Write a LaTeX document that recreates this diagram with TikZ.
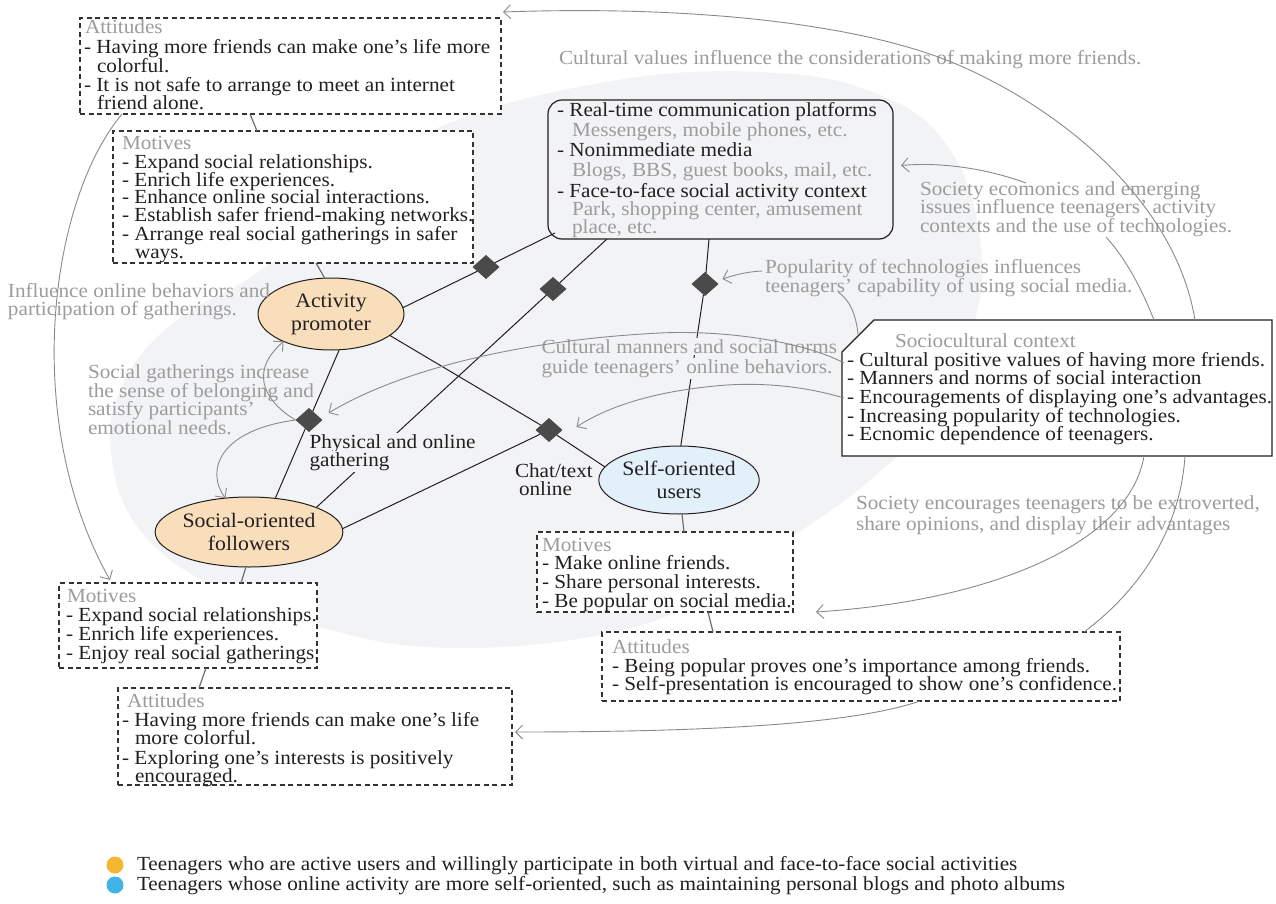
\documentclass[tikz,border=0pt]{standalone}
\usepackage{fontspec}
\setmainfont{Liberation Serif}[FakeStretch=1.06]
\usetikzlibrary{shapes.geometric,arrows.meta,calc}

\definecolor{cBlob}{HTML}{F2F3F5}
\definecolor{cAnnoText}{HTML}{9C9C9C}
\definecolor{cAnnoLine}{HTML}{8A8A8A}
\definecolor{cInk}{HTML}{231F20}
\definecolor{cDia}{HTML}{4A4A4A}
\definecolor{cOrange}{HTML}{F8DEBB}
\definecolor{cBlue}{HTML}{E2F0FA}
\definecolor{cKeyOrange}{HTML}{F4B731}
\definecolor{cKeyBlue}{HTML}{43B3E5}
\definecolor{cBoxLine}{HTML}{333333}
\definecolor{cTie}{HTML}{6E6E6E}

\newcommand\txtsize{\fontsize{20}{19}\selectfont}
\newcommand\putline[4][]{\node[blackline,#1] (#2) at (#3) {#4};}

\tikzset{
  every node/.style={inner sep=0pt, outer sep=0pt},
  blackline/.style={anchor=base west, font=\txtsize, text=cInk},
  grayline/.style={anchor=base west, font=\txtsize, text=cAnnoText},
  dbox/.style={draw=cBoxLine, line width=1.1pt, dash pattern=on 5pt off 3.5pt, fill=white, anchor=north west},
  actor/.style={ellipse, draw=cInk, line width=1pt, align=center, font=\fontsize{20.5}{23}\selectfont, text=cInk},
  relation/.style={draw=cInk, line width=1pt},
  junction/.style={diamond, fill=cDia, aspect=1.1, minimum width=27pt, minimum height=24pt},
  influence/.style={draw=cAnnoLine, line width=0.9pt},
  influencearrow/.style={influence, -{Straight Barb[length=7pt,width=14pt,line width=0.9pt]}},
  boxtie/.style={draw=cTie, line width=1.2pt},
}

\begin{document}
\begin{tikzpicture}[x=1pt,y=-1pt]
\fill[white] (0,0) rectangle (1276,904);
\useasboundingbox (0,0) rectangle (1276,904);

% light background region holding the actors
\fill[cBlob] plot[smooth cycle, tension=0.7] coordinates {(760,72) (880,95) (950,150) (980,240) (975,320) (940,410) (870,480) (795,535) (700,600) (600,635) (450,648) (330,630) (220,590) (140,530) (111,450) (125,380) (177,320) (257,273) (340,200) (433,130) (600,83)};

% actors, media box and junctions
\node[actor, fill=cOrange, minimum width=146pt, minimum height=72pt] (ap) at (331,314) {Activity\\promoter};
\node[actor, fill=cOrange, minimum width=164pt, minimum height=70pt] (sf) at (249,532) {Social-oriented\\followers};
\node[actor, fill=cBlue, minimum width=140pt, minimum height=68pt] (su) at (679,480) {Self-oriented\\users};
\node[draw=cInk, line width=1.2pt, rounded corners=14pt, fill=cBlob, minimum width=345pt, minimum height=139pt, anchor=north west] (media) at (548,100) {};

\node[junction] (d1) at (486,267) {};
\node[junction] (d2) at (553,289) {};
\node[junction] (d3) at (705,284) {};
\node[junction] (d4) at (309,420) {};
\node[junction] (d5) at (549,430) {};

\path[relation] (ap.5) -- (d1) -- ($(media.south west)+(7,-6)$);
\path[relation] (sf.20) -- (d2) -- ($(media.south west)+(59,0)$);
\path[relation] (su.87) -- (d3) -- ($(media.south west)+(161,0)$);
\path[relation] (ap.-77) -- (d4) -- (sf.52);
\path[relation] (ap.-20) -- (d5) -- (su.170);
\path[relation] (sf.2) -- (d5);

% media box contents
\putline{m1}{557,117}{- Real-time communication platforms}
\putline[grayline]{m2}{572,137}{Messengers, mobile phones, etc.}
\putline{m3}{557,157}{- Nonimmediate media}
\putline[grayline]{m4}{572,177}{Blogs, BBS, guest books, mail, etc.}
\putline{m5}{557,197}{- Face-to-face social activity context}
\putline[grayline]{m6}{572,215}{Park, shopping center, amusement}
\putline[grayline]{m7}{572,233}{place, etc.}

% relation labels
\putline[fill=cBlob, inner sep=1.5pt]{g1}{308,448}{Physical and online}
\putline[fill=cBlob, inner sep=1.5pt]{g2}{308,466}{gathering}
\putline{c1}{515,477}{Chat/text}
\putline{c2}{519,495}{online}
\putline[grayline, fill=cBlob, inner sep=1.5pt]{cm1}{540,353}{Cultural manners and social norms}
\putline[grayline, fill=cBlob, inner sep=1.5pt]{cm2}{540,373}{guide teenagers’ online behaviors.}

% sociocultural context box
\node[minimum width=430pt, minimum height=136pt, anchor=north west] (socio) at (842,320) {};
\draw[cInk, line width=1.2pt, fill=white] ($(socio.north west)+(32,0)$) -- (socio.north east) -- (socio.south east) -- (socio.south west) -- ($(socio.north west)+(0,32)$) -- cycle;
\putline[grayline]{s0}{895,347}{Sociocultural context}
\putline{s1}{847,366}{- Cultural positive values of having more friends.}
\putline{s2}{847,384}{- Manners and norms of social interaction}
\putline{s3}{847,403}{- Encouragements of displaying one’s advantages.}
\putline{s4}{847,422}{- Increasing popularity of technologies.}
\putline{s5}{847,440}{- Ecnomic dependence of teenagers.}

% dashed motive and attitude boxes
\node[dbox, minimum width=421pt, minimum height=96pt] (attTop) at (80,18) {};
\putline[grayline]{at0}{85,34}{Attitudes}
\putline{at1}{84,54}{- Having more friends can make one’s life more}
\putline{at2}{97,73}{colorful.}
\putline{at3}{84,92}{- It is not safe to arrange to meet an internet}
\putline{at4}{97,110}{friend alone.}

\node[dbox, minimum width=360pt, minimum height=132pt] (motTop) at (113,131) {};
\putline[grayline]{mt0}{122,150}{Motives}
\putline{mt1}{122,168}{- Expand social relationships.}
\putline{mt2}{122,186}{- Enrich life experiences.}
\putline{mt3}{122,204}{- Enhance online social interactions.}
\putline{mt4}{122,222}{- Establish safer friend-making networks.}
\putline{mt5}{122,240}{- Arrange real social gatherings in safer}
\putline{mt6}{135,258}{ways.}

\node[dbox, minimum width=258pt, minimum height=85pt] (motLeft) at (59,583) {};
\putline[grayline]{ml0}{67,602}{Motives}
\putline{ml1}{66,621}{- Expand social relationships.}
\putline{ml2}{66,640}{- Enrich life experiences.}
\putline{ml3}{66,659}{- Enjoy real social gatherings.}

\node[dbox, minimum width=394pt, minimum height=97pt] (attLeft) at (118,688) {};
\putline[grayline]{al0}{127,707}{Attitudes}
\putline{al1}{122,726}{- Having more friends can make one’s life}
\putline{al2}{135,744}{more colorful.}
\putline{al3}{122,764}{- Exploring one’s interests is positively}
\putline{al4}{135,782}{encouraged.}

\node[dbox, minimum width=256pt, minimum height=80pt] (motSelf) at (537,532) {};
\putline[grayline]{ms0}{542,551}{Motives}
\putline{ms1}{542,569}{- Make online friends.}
\putline{ms2}{542,588}{- Share personal interests.}
\putline{ms3}{542,607}{- Be popular on social media.}

\node[dbox, minimum width=518pt, minimum height=69pt] (attSelf) at (602,632) {};
\putline[grayline]{as0}{612,653}{Attitudes}
\putline{as1}{612,672}{- Being popular proves one’s importance among friends.}
\putline{as2}{612,690}{- Self-presentation is encouraged to show one’s confidence.}

% short ties between actors and their boxes
\draw[boxtie] ($(attTop.south west)+(170,0)$) -- ($(motTop.north west)+(144,0)$);
\draw[boxtie] ($(motTop.south west)+(203,0)$) -- (ap.100);
\draw[boxtie] (sf.265) -- ($(motLeft.north west)+(182,0)$);
\draw[boxtie] ($(motLeft.south west)+(147,0)$) -- ($(attLeft.north west)+(81,0)$);
\draw[boxtie] (su.275) -- ($(motSelf.north west)+(147,0)$);
\draw[boxtie] ($(motSelf.south west)+(171,0)$) -- ($(attSelf.north west)+(111,0)$);

% influence annotations
\putline[grayline]{cv}{559,65}{Cultural values influence the considerations of making more friends.}
\putline[grayline]{se1}{920,196}{Society ecomonics and emerging}
\putline[grayline]{se2}{920,214}{issues influence teenagers’ activity}
\putline[grayline]{se3}{920,232}{contexts and the use of technologies.}
\putline[grayline]{pt1}{765,273}{Popularity of technologies influences}
\putline[grayline]{pt2}{765,292}{teenagers’ capability of using social media.}
\putline[grayline]{en1}{856,509}{Society encourages teenagers to be extroverted,}
\putline[grayline]{en2}{856,530}{share opinions, and display their advantages}
\putline[grayline]{sg1}{88,378}{Social gatherings increase}
\putline[grayline]{sg2}{88,397}{the sense of belonging and}
\putline[grayline]{sg3}{88,415}{satisfy participants’}
\putline[grayline]{sg4}{88,434}{emotional needs.}
\putline[grayline]{io1}{8,297}{Influence online behaviors and}
\putline[grayline]{io2}{8,315}{participation of gatherings.}

\draw[influencearrow] ($(socio.north west)+(353,0)$) .. controls (1175,200) and (1060,110) .. (963,67) .. controls (870,25) and (700,5) .. ($(attTop.north east)+(2,-6)$);
\draw[influence] ($(socio.north west)+(312,0)$) .. controls (1140,285) and (1125,258) .. (1106,237);
\draw[influencearrow] (1026,183) .. controls (985,168) and (940,162) .. ($(media.east)+(8,-4)$);
\draw[influence] ($(socio.north west)+(16,14)$) .. controls (856,315) and (850,300) .. (838,292);
\draw[influencearrow] (762,271) .. controls (745,272) and (735,275) .. ($(d3.east)+(4,-5)$);
\draw[influencearrow] ($(socio.north west)+(2,43)$) .. controls (800,340) and (720,330) .. (660,333) .. controls (520,340) and (400,370) .. ($(d4.east)+(6,-7)$);
\draw[influencearrow] ($(socio.north west)+(2,78)$) .. controls (800,385) and (760,383) .. (727,385) .. controls (660,390) and (610,405) .. ($(d5.east)+(14,-3)$);
\draw[influencearrow] ($(socio.south west)+(302,0)$) .. controls (1130,540) and (1000,600) .. ($(motSelf.south east)+(23,0)$);
\draw[influence] ($(socio.south west)+(343,0)$) .. controls (1180,530) and (1140,590) .. ($(attSelf.north west)+(482,0)$);
\draw[influencearrow] ($(attSelf.south west)+(318,0)$) .. controls (850,725) and (700,732) .. ($(attLeft.north east)+(3,44)$);
\draw[influencearrow] ($(attTop.south west)+(42,0)$) .. controls (50,200) and (20,420) .. ($(motLeft.north west)+(51,-3)$);
\draw[influencearrow] (d4.west) .. controls (270,405) and (245,375) .. (ap.210);
\draw[influencearrow] (d4.west) .. controls (220,430) and (205,470) .. (sf.125);

% legend
\node[circle, fill=cKeyOrange, minimum size=17pt] (keyA) at (115,865) {};
\node[circle, fill=cKeyBlue, minimum size=17pt] (keyB) at (115,885) {};
\putline{kA}{137,870}{Teenagers who are active users and willingly participate in both virtual and face-to-face social activities}
\putline{kB}{137,890}{Teenagers whose online activity are more self-oriented, such as maintaining personal blogs and photo albums}
\end{tikzpicture}
\end{document}
